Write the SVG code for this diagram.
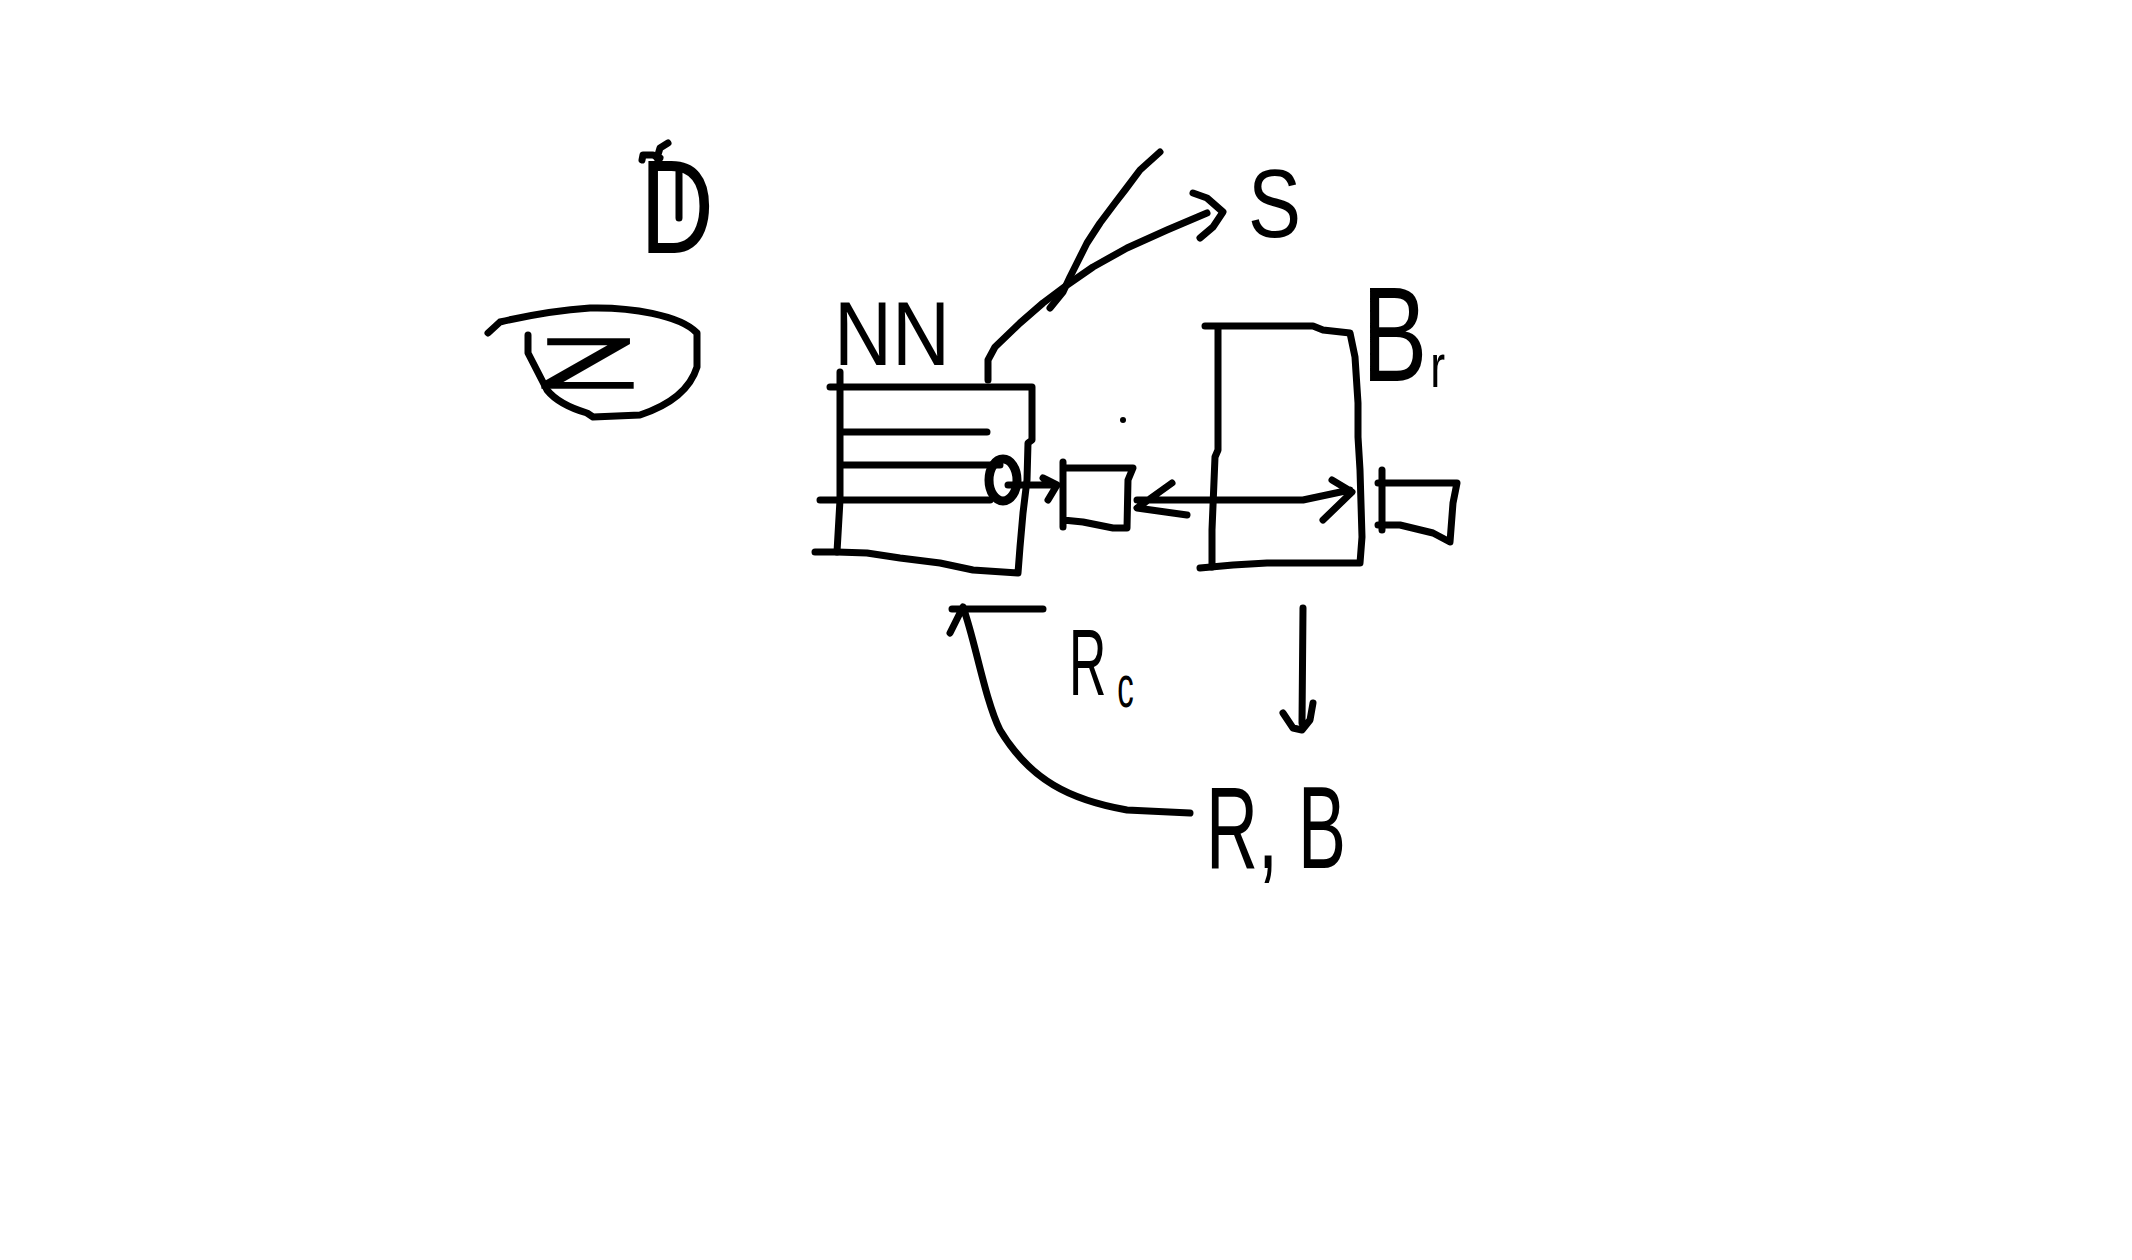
<svg xmlns="http://www.w3.org/2000/svg" width="2132" height="1260" viewBox="0 0 2132 1260">
<style>
.s{fill:none;stroke:#000;stroke-width:7;stroke-linecap:round;stroke-linejoin:round}
.t{font-family:"Liberation Sans",Arial,sans-serif;fill:#000}
</style>
<rect width="2132" height="1260" fill="#fff"/>
<g id="label-D">
<text class="t" x="640" y="253" font-size="133" textLength="74" lengthAdjust="spacingAndGlyphs">D</text>
<path class="s" d="M642,160 L643,155 L653,155 L660,158 M657,158 L660,148 L668,143 M679,170 L679,218"/>
</g>
<g id="node-Z">
<path class="s" d="M488,333 L500,322 C530,315 560,310 590,308 C630,307 680,315 697,333 L697,367 C690,390 670,405 640,415 L593,417 L587,413 C570,408 555,400 547,390 L528,353 L528,335"/>
<text class="t" x="538" y="388" font-size="70" textLength="99" lengthAdjust="spacingAndGlyphs" stroke="#000" stroke-width="1.5">Z</text>
</g>
<g id="label-NN">
<text class="t" x="834" y="365" font-size="90" textLength="116" lengthAdjust="spacingAndGlyphs">NN</text>
</g>
<g id="node-left-box">
<path class="s" d="M830,387 L1032,387 L1032,440 L1028,443 L1027,480 L1023,513 L1020,547 L1018,573 L973,570 L940,563 L900,558 L867,553 L837,552 L815,552"/>
<path class="s" d="M840,372 L840,500 L837,552 M842,432 L987,432 M842,465 L1000,465 M820,500 L990,500"/>
<ellipse cx="1003" cy="480" rx="14" ry="21" fill="none" stroke="#000" stroke-width="9"/>
</g>
<g id="node-small-box-1">
<path class="s" d="M1063,462 L1063,527 M1063,468 L1133,468 L1128,480 L1127,528 L1113,528 L1083,522 L1063,520"/>
</g>
<g id="node-right-box">
<path class="s" d="M1205,326 L1313,326 L1323,330 L1350,333 L1355,357 L1358,403 L1358,437 L1360,470 L1362,537 L1360,563 L1267,563 L1233,565 L1200,568"/>
<path class="s" d="M1218,327 L1218,450 L1215,457 L1212,530 L1212,567"/>
</g>
<g id="node-small-box-2">
<path class="s" d="M1382,470 L1382,530 M1378,483 L1457,483 L1453,503 L1450,542 L1433,533 L1400,525 L1378,525"/>
</g>
<g id="label-S">
<text class="t" x="1248" y="237" font-size="96" textLength="53" lengthAdjust="spacingAndGlyphs">S</text>
</g>
<g id="label-Br">
<text class="t" transform="translate(1362,381) scale(0.72,1)" font-size="136">B<tspan font-size="62" dx="4" dy="6">r</tspan></text>
</g>
<g id="label-Rc">
<text class="t" transform="translate(1069,695) scale(0.55,1)" font-size="94">R<tspan font-size="60" dx="20" dy="12">c</tspan></text>
</g>
<g id="label-RB">
<text class="t" x="1206" y="868" font-size="116" textLength="140" lengthAdjust="spacingAndGlyphs">R, B</text>
</g>
<g id="dot"><circle cx="1123" cy="420" r="3" fill="#000"/></g>
<g id="connectors">
<path class="s" d="M988,380 L988,360 L995,347 L1020,323 L1043,303 L1067,285 L1093,267 L1127,248 L1167,230 L1207,213"/>
<path class="s" d="M1193,193 L1207,198 L1223,212 L1213,227 L1200,238"/>
<path class="s" d="M1050,308 L1063,292 L1070,277 L1077,263 L1087,243 L1100,223 L1115,203 L1125,190 L1140,170 L1160,152"/>
<path class="s" d="M1008,485 L1057,485 M1043,478 L1057,485 L1048,500"/>
<path class="s" d="M1137,500 L1303,500 L1350,490 M1172,483 L1137,508 L1187,515 M1332,480 L1352,492 L1323,520"/>
<path class="s" d="M1303,608 L1302,723 M1283,713 L1293,728 L1302,730 L1310,720 L1313,703"/>
<path class="s" d="M1190,813 L1127,810 C1070,800 1030,780 1000,730 C985,700 975,640 963,607 M950,633 L963,607 M952,609 L1043,609"/>
</g>
</svg>
